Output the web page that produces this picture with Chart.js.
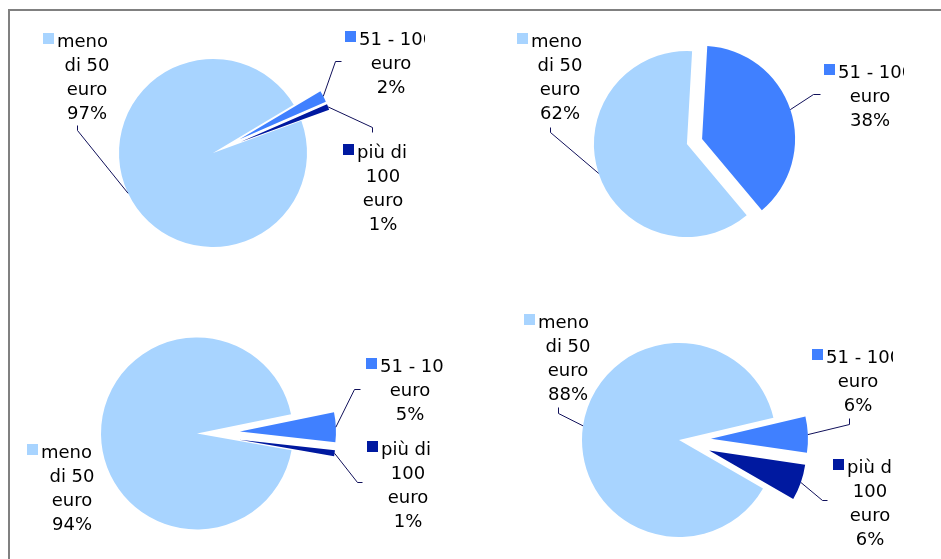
<!DOCTYPE html>
<html>
<head>
<meta charset="utf-8">
<script src="https://cdn.jsdelivr.net/npm/chart.js@4.4.1/dist/chart.umd.min.js"></script>
<style>
  html, body { margin: 0; padding: 0; background: #fff; overflow: hidden; }
  #stage { position: relative; width: 941px; height: 559px; }
  #frame {
    position: absolute; left: 8px; top: 9px; right: 0; bottom: 0;
    border-top: 2px solid #808080; border-left: 2px solid #808080;
  }
  canvas { position: absolute; left: 0; top: 0; }
</style>
</head>
<body>
<div id="stage">
  <div id="frame"></div>
  <canvas id="pie1" width="941" height="559"></canvas>
  <canvas id="pie2" width="941" height="559"></canvas>
  <canvas id="pie3" width="941" height="559"></canvas>
  <canvas id="pie4" width="941" height="559"></canvas>
</div>
<script>
const categories = ['meno di 50 euro', '51 - 100 euro', 'più di 100 euro'];
const categoryLines = [['meno', 'di 50', 'euro'], ['51 - 100', 'euro'], ['più di', '100', 'euro']];

const shares1 = [97, 2, 1];
const shares2 = [62, 38, 0];
const shares3 = [94, 5, 1];
const shares4 = [88, 6, 6];

const sliceColors = ['#A8D4FF', '#4080FF', '#0019A0'];
const leaderColor = '#10105a';
const labelFont = '18px "DejaVu Sans", Verdana, sans-serif';
const lineGap = 24;
const keySize = 11;

// layout of each panel: pie centre, radius, start angle, how far slices are pulled out,
// and where the data labels sit
const panels = [
    {
        id: 'pie1', values: shares1, center: [213, 153], radius: 94, rotation: 70,
        explode: [0, 30, 30], clipRight: 425,
        labels: [
            { key: 43, base: 47, cx: 87, leader: [[77, 130], [77, 125]] },
            { key: 345, base: 45, cx: 391, leader: [[335, 61], [341, 61]] },
            { key: 343, base: 158, cx: 383, leader: [[372, 127], [372, 132]] },
        ],
    },
    {
        id: 'pie2', values: shares2, center: [694.5, 141.5], radius: 93, rotation: 140,
        explode: [8, 8, 0], clipRight: 904,
        labels: [
            { key: 517, base: 47, cx: 560, leader: [[550, 132], [550, 127]] },
            { key: 824, base: 78, cx: 870, leader: [[813, 94], [820, 94]] },
            null,
        ],
    },
    {
        id: 'pie3', values: shares3, center: [197, 433.5], radius: 96, rotation: 100,
        explode: [0, 43, 43], clipRight: 445,
        labels: [
            { key: 27, base: 458, cx: 72, leader: null },
            { key: 366, base: 372, cx: 410, leader: [[354, 389], [360, 389]] },
            { key: 367, base: 455, cx: 408, leader: [[357, 482], [362, 482]] },
        ],
    },
    {
        id: 'pie4', values: shares4, center: [679, 440], radius: 97, rotation: 120,
        explode: [0, 32, 32], clipRight: 893,
        labels: [
            { key: 524, base: 328, cx: 568, leader: [[558, 413], [558, 407]] },
            { key: 812, base: 363, cx: 858, leader: [[849, 424], [849, 418]] },
            { key: 833, base: 473, cx: 870, leader: [[822, 500], [827, 500]] },
        ],
    },
];

const padFor = (c, size) => (c * 2 < size ? [0, size - 2 * c] : [2 * c - size, 0]);

// pull slices out along their middle angle, like an exploded Excel pie
const explodePlugin = {
    id: 'explode',
    beforeDatasetsDraw(chart, args, opts) {
        const { left, right, top, bottom } = chart.chartArea;
        const cx = (left + right) / 2;
        const cy = (top + bottom) / 2;
        chart.getDatasetMeta(0).data.forEach((arc, i) => {
            const d = (opts.dist && opts.dist[i]) || 0;
            const mid = (arc.startAngle + arc.endAngle) / 2;
            arc.x = cx + Math.cos(mid) * d;
            arc.y = cy + Math.sin(mid) * d;
        });
    },
};

const pieLabelsPlugin = {
    id: 'pieLabels',
    afterDatasetsDraw(chart, args, opts) {
        const ctx = chart.ctx;
        const meta = chart.getDatasetMeta(0);
        const values = chart.data.datasets[0].data;
        const total = values.reduce((a, b) => a + b, 0);

        ctx.save();
        ctx.beginPath();
        ctx.rect(0, 0, opts.clipRight, chart.height);
        ctx.clip();

        meta.data.forEach((arc, i) => {
            const lab = opts.labels[i];
            if (!lab) {
                return;
            }
            const mid = (arc.startAngle + arc.endAngle) / 2;

            if (lab.leader) {
                ctx.strokeStyle = leaderColor;
                ctx.lineWidth = 1;
                ctx.beginPath();
                ctx.moveTo(arc.x + Math.cos(mid) * arc.outerRadius, arc.y + Math.sin(mid) * arc.outerRadius);
                lab.leader.forEach(([x, y]) => ctx.lineTo(x + 0.5, y + 0.5));
                ctx.stroke();
            }

            const lines = categoryLines[i].concat(Math.round((values[i] / total) * 100) + '%');
            ctx.font = labelFont;
            ctx.fillStyle = sliceColors[i];
            ctx.fillRect(lab.key, lab.base - 14, keySize, keySize);

            ctx.fillStyle = '#000';
            ctx.textBaseline = 'alphabetic';
            ctx.textAlign = 'left';
            ctx.fillText(lines[0], lab.key + keySize + 3, lab.base);
            ctx.textAlign = 'center';
            for (let k = 1; k < lines.length; k++) {
                ctx.fillText(lines[k], lab.cx, lab.base + k * lineGap);
            }
        });
        ctx.restore();
    },
};

panels.forEach((p) => {
    const canvas = document.getElementById(p.id);
    const [padLeft, padRight] = padFor(p.center[0], canvas.width);
    const [padTop, padBottom] = padFor(p.center[1], canvas.height);

    new Chart(canvas.getContext('2d'), {
        type: 'pie',
        data: {
            labels: categories,
            datasets: [
                {
                    data: p.values,
                    backgroundColor: sliceColors,
                    borderWidth: 0,
                    radius: p.radius,
                    rotation: p.rotation,
                    clip: false,
                },
            ],
        },
        options: {
            responsive: false,
            animation: false,
            events: [],
            layout: { padding: { left: padLeft, right: padRight, top: padTop, bottom: padBottom } },
            plugins: {
                legend: { display: false },
                tooltip: { enabled: false },
                explode: { dist: p.explode },
                pieLabels: { labels: p.labels, clipRight: p.clipRight },
            },
        },
        plugins: [explodePlugin, pieLabelsPlugin],
    });
});
</script>
</body>
</html>
